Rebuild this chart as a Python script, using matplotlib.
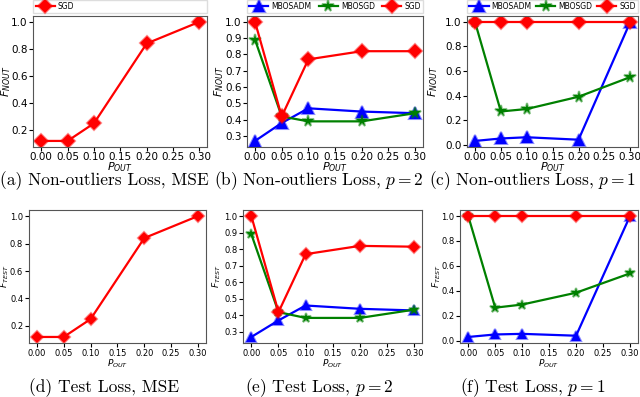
import matplotlib.pyplot as plt
from matplotlib.colors import to_rgba
from matplotlib.ticker import MultipleLocator

p_out = [0.00, 0.05, 0.10, 0.20, 0.30]
xticks = [0.00, 0.05, 0.10, 0.15, 0.20, 0.25, 0.30]

# top row: non-outliers loss
a_sgd = [0.12, 0.12, 0.25, 0.84, 1.00]
b_adm = [0.27, 0.38, 0.47, 0.45, 0.44]
b_mbsgd = [0.89, 0.42, 0.39, 0.39, 0.44]
b_sgd = [1.00, 0.42, 0.77, 0.82, 0.82]
c_adm = [0.03, 0.05, 0.06, 0.04, 1.00]
c_mbsgd = [1.00, 0.27, 0.29, 0.39, 0.55]
c_sgd = [1.00, 1.00, 1.00, 1.00, 1.00]

# bottom row: test loss
d_sgd = [0.12, 0.12, 0.25, 0.84, 1.00]
e_adm = [0.27, 0.37, 0.46, 0.44, 0.43]
e_mbsgd = [0.89, 0.42, 0.385, 0.385, 0.435]
e_sgd = [1.00, 0.42, 0.77, 0.82, 0.815]
f_adm = [0.03, 0.05, 0.055, 0.04, 1.00]
f_mbsgd = [1.00, 0.265, 0.29, 0.385, 0.54]
f_sgd = [1.00, 1.00, 1.00, 1.00, 1.00]

captions = ["(a) Non-outliers Loss, MSE", "(b) Non-outliers Loss, $p = 2$",
            "(c) Non-outliers Loss, $p = 1$", "(d) Test Loss, MSE",
            "(e) Test Loss, $p = 2$", "(f) Test Loss, $p = 1$"]

styles = {
    "MBOSADM": dict(color="blue", marker="^", ms=8),
    "MBOSGD": dict(color="green", marker="*", ms=8.5),
    "SGD": dict(color="red", marker="D", ms=7.5),
}

fig = plt.figure(figsize=(6.4, 3.97), dpi=100)

positions = [
    [0.052, 0.630, 0.272, 0.330],
    [0.386, 0.630, 0.275, 0.330],
    [0.730, 0.630, 0.267, 0.330],
    [0.045, 0.136, 0.277, 0.335],
    [0.380, 0.136, 0.280, 0.335],
    [0.719, 0.136, 0.278, 0.335],
]
caption_x = [104, 319, 533, 104, 319, 533]
ylabel_x = [-0.115, -0.12, -0.16, -0.10, -0.115, -0.095]

panels = [
    {"SGD": a_sgd},
    {"MBOSADM": b_adm, "MBOSGD": b_mbsgd, "SGD": b_sgd},
    {"MBOSADM": c_adm, "MBOSGD": c_mbsgd, "SGD": c_sgd},
    {"SGD": d_sgd},
    {"MBOSADM": e_adm, "MBOSGD": e_mbsgd, "SGD": e_sgd},
    {"MBOSADM": f_adm, "MBOSGD": f_mbsgd, "SGD": f_sgd},
]

for i, (pos, series) in enumerate(zip(positions, panels)):
    ax = fig.add_axes(pos)
    top = i < 3
    fs = 7.5 if top else 6
    for name, vals in series.items():
        st = styles[name]
        ax.plot(p_out, vals, color=st["color"], lw=1.6, marker=st["marker"],
                ms=st["ms"] if top else st["ms"] * 0.85,
                mfc=st["color"], mec=to_rgba(st["color"], 0.45), mew=1.5,
                label=name)
    ax.set_xticks(xticks)
    ax.set_xticklabels([f"{t:.2f}" for t in xticks])
    if i in (1, 4):
        ax.yaxis.set_major_locator(MultipleLocator(0.1))
    ax.tick_params(labelsize=fs, length=3, pad=1)
    ax.set_xlabel("$P_{OUT}$", fontsize=fs + 0.5)
    ax.set_ylabel("$F_{NOUT}$" if top else "$F_{TEST}$", fontsize=fs + 0.5)
    ax.yaxis.set_label_coords(ylabel_x[i], 0.5)
    ax.xaxis.set_label_coords(0.5, -0.10 if top else -0.11)
    for s in ax.spines.values():
        s.set_color("#555555")
    if top:
        ax.legend(loc="lower left", bbox_to_anchor=(0, 1.02, 1, 0.1), mode="expand",
                  ncol=3, fontsize=5.5, handlelength=2.5, borderaxespad=0,
                  columnspacing=0.5, handletextpad=0.4, borderpad=0.3,
                  framealpha=1, edgecolor="#dddddd", fancybox=False)
    cy = 1 - 181 / 397 if top else 1 - 388 / 397
    fig.text(caption_x[i] / 640, cy, captions[i], ha="center", va="center",
             fontsize=12.5, family="cmr10", math_fontfamily="cm")

fig.savefig("out.png", dpi=100)
